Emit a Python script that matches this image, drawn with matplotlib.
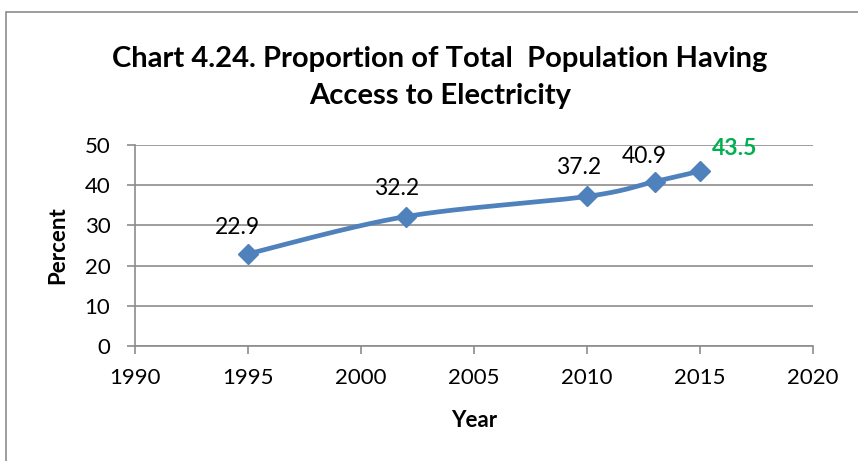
import numpy as np
import matplotlib
matplotlib.use("Agg")
import matplotlib.pyplot as plt
from matplotlib.patches import Rectangle

plt.rcParams['font.family'] = ['Lato', 'DejaVu Sans']

years = [1995, 2002, 2010, 2013, 2015]
percent = [22.9, 32.2, 37.2, 40.9, 43.5]
value_labels = ["22.9", "32.2", "37.2", "40.9", "43.5"]
x_ticks = [1990, 1995, 2000, 2005, 2010, 2015, 2020]
y_ticks = [0, 10, 20, 30, 40, 50]

title = "Chart 4.24. Proportion of Total  Population Having\nAccess to Electricity"
blue = "#4F81BD"
green = "#00B050"
grid_gray = "#8C8C8C"

fig = plt.figure(figsize=(8.58, 4.61), dpi=100)
ax = fig.add_axes([0.157, 0.2495, 0.7906, 0.436])
ax.set_xlim(1990, 2020)
ax.set_ylim(0, 50)

# outer chart frame
fig.patches.append(Rectangle((6 / 858, -0.1), 1.2, 1 - 12 / 461 + 0.1,
                             transform=fig.transFigure, fill=False,
                             edgecolor="#8C8C8C", linewidth=1.2))

ax.set_xticks(x_ticks)
ax.set_yticks(y_ticks)
ax.tick_params(axis='both', labelsize=16, color=grid_gray, length=5.5, width=1.2)
ax.tick_params(axis='x', pad=10)
ax.tick_params(axis='y', pad=12)
ax.grid(axis='y', color=grid_gray, linewidth=1.2)
ax.set_axisbelow(True)
for s in ['top', 'right']:
    ax.spines[s].set_visible(False)
for s in ['left', 'bottom']:
    ax.spines[s].set_color(grid_gray)
    ax.spines[s].set_linewidth(1.2)

# smoothed line (cubic Bezier through the points, computed in display space)
fig.canvas.draw()
pts = ax.transData.transform(np.column_stack([years, percent]))
n = len(pts)
curve = []
for i in range(n - 1):
    p0 = pts[max(i - 1, 0)]
    p1 = pts[i]
    p2 = pts[i + 1]
    p3 = pts[min(i + 2, n - 1)]
    c1 = p1 + (p2 - p0) / 6.0
    c2 = p2 - (p3 - p1) / 6.0
    t = np.linspace(0, 1, 40)[:, None]
    seg = ((1 - t) ** 3) * p1 + 3 * ((1 - t) ** 2) * t * c1 + 3 * (1 - t) * t ** 2 * c2 + t ** 3 * p2
    curve.append(seg)
curve = np.vstack(curve)
curve_data = ax.transData.inverted().transform(curve)
ax.plot(curve_data[:, 0], curve_data[:, 1], color=blue, linewidth=3.4,
        solid_capstyle='round', zorder=3)
ax.plot(years, percent, linestyle='none', marker='D', markersize=10,
        color=blue, zorder=4)

offsets = [(-10, 16), (-9, 18), (-8, 18), (-11, 15), (35, 12)]
for i, (x, y, lab) in enumerate(zip(years, percent, value_labels)):
    last = i == len(years) - 1
    ax.annotate(lab, (x, y), xytext=offsets[i], textcoords='offset pixels',
                ha='center', va='bottom', fontsize=16.5,
                color=green if last else 'black',
                fontweight='bold' if last else 'normal', zorder=5)

ax.set_xlabel("Year", fontsize=16, fontweight='bold')
ax.set_ylabel("Percent", fontsize=16, fontweight='bold')
ax.xaxis.set_label_coords(0.5, (346 - 421) / 201)
ax.xaxis.label.set_va('center')
ax.yaxis.set_label_coords((58 - 135) / 678, 0.5)
ax.yaxis.label.set_va('center')

fig.text(0.513, 1 - 104 / 461, title, ha='center', va='baseline', fontsize=21,
         fontweight='bold', linespacing=1.5)

fig.savefig("out.png", dpi=100)
